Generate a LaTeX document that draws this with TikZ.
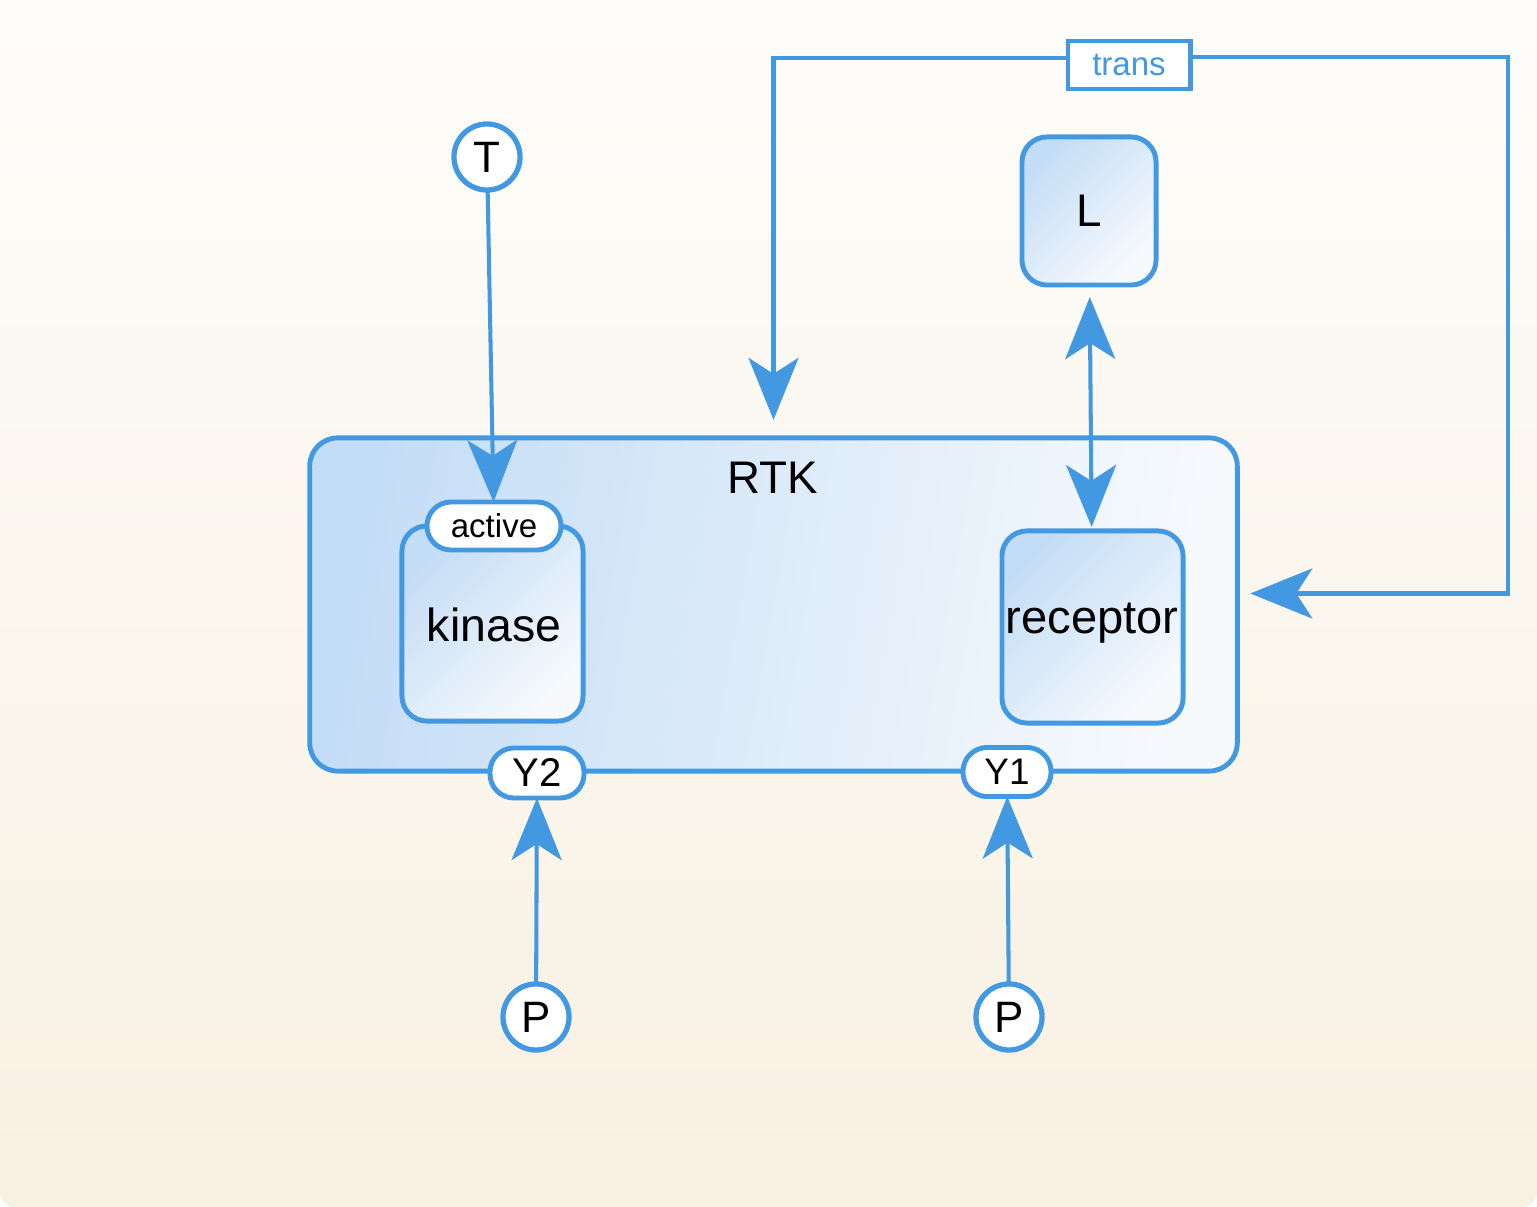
\documentclass[tikz,border=0pt]{standalone}
\usepackage{fontspec}
\setmainfont{Liberation Sans}
\usetikzlibrary{arrows.meta}
\definecolor{rtkblue}{HTML}{4299E1}
\definecolor{lightblue}{HTML}{C4DDF6}
\definecolor{paleblue}{HTML}{F7FAFD}
\definecolor{bgtop}{HTML}{FEFDFA}
\definecolor{bgbot}{HTML}{F8F0E2}
\begin{document}
\begin{tikzpicture}[x=0.01cm, y=-0.01cm,
  every node/.style={outer sep=0pt, inner sep=0pt},
  box/.style={draw=rtkblue, line width=1.4pt, rounded corners=0.25cm, left color=lightblue, right color=paleblue, shading angle=45},
  pill/.style={draw=rtkblue, line width=1.4pt, fill=white, rounded corners=0.24cm},
  state/.style={circle, draw=rtkblue, line width=1.5pt, fill=white, minimum size=0.66cm, font=\fontsize{12.5}{14}\selectfont},
  link/.style={draw=rtkblue, line width=1.15pt, -{Stealth[length=0.62cm, width=0.5cm, inset=0.16cm]}}]
\useasboundingbox (0,0) rectangle (1537,1207);
\fill[white] (0,0) rectangle (1537,1207);
\shade[top color=bgtop, bottom color=bgbot, rounded corners=0.15cm] (0,0) rectangle (1537,1207);

\node[box, left color=lightblue, right color=paleblue, shading angle=80, minimum width=9.27cm, minimum height=3.33cm, rounded corners=0.28cm] (rtk) at (773.5,604.5) {};
\node[font=\fontsize{13}{15}\selectfont] (rtkname) at (773,478) {RTK};

\node[box, minimum width=1.81cm, minimum height=1.95cm] (kinase) at (492.5,623.5) {};
\node[font=\fontsize{13.2}{15}\selectfont] (kinasename) at (494,625) {kinase};
\node[pill, minimum width=1.34cm, minimum height=0.48cm, font=\fontsize{9.4}{11}\selectfont] (active) at (494,526) {active};

\node[box, minimum width=1.81cm, minimum height=1.92cm] (receptor) at (1092.5,627) {};
\node[font=\fontsize{13.4}{15}\selectfont] (receptorname) at (1092,623) {receptor};

\node[box, minimum width=1.34cm, minimum height=1.48cm, font=\fontsize{13}{15}\selectfont] (ligand) at (1089,211) {L};

\node[state] (T) at (487,157) {T};
\node[state] (P2) at (536,1017) {P};
\node[state] (P1) at (1009,1017) {P};

\node[pill, minimum width=0.94cm, minimum height=0.5cm, font=\fontsize{11.4}{13}\selectfont] (Y2) at (537,773) {Y2};
\node[pill, minimum width=0.88cm, minimum height=0.49cm, font=\fontsize{10.5}{12}\selectfont] (Y1) at (1007,772) {Y1};

\node[draw=rtkblue, line width=1.4pt, fill=white, minimum width=1.22cm, minimum height=0.48cm, text=rtkblue, font=\fontsize{9.4}{11}\selectfont] (trans) at (1129,65) {trans};

\draw[link] (T) -- (active);
\draw[link] (P2) -- (Y2);
\draw[link] (P1) -- (Y1);
\draw[link, {Stealth[length=0.62cm, width=0.5cm, inset=0.16cm]}-{Stealth[length=0.62cm, width=0.5cm, inset=0.16cm]}, shorten <=0.12cm, shorten >=0.04cm] (ligand) -- (receptor);
\draw[link] ([yshift=0.07cm]trans.west) -| ([yshift=0.18cm]rtk.north);
\draw[link] ([yshift=0.08cm]trans.east) -- ++(318,0) |- ([xshift=0.13cm, yshift=0.11cm]rtk.east);
\end{tikzpicture}
\end{document}
